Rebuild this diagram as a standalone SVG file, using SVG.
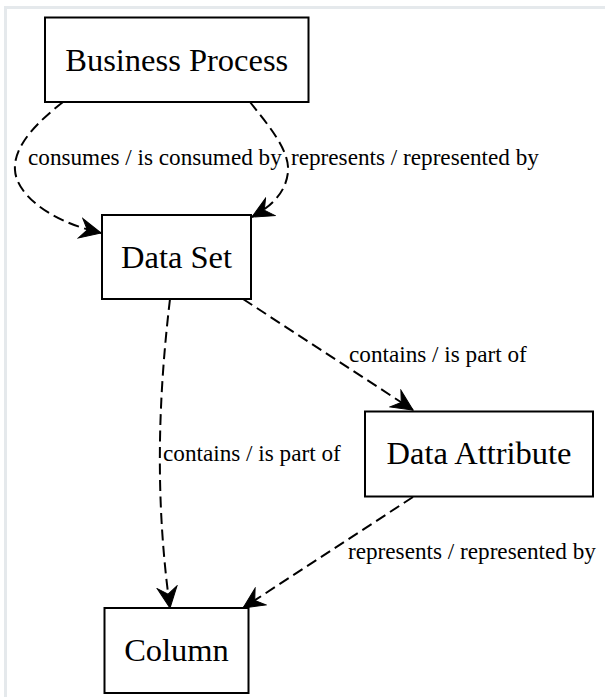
<svg xmlns="http://www.w3.org/2000/svg" width="605" height="697" viewBox="0 0 605 697">
<style>
.node rect{fill:#fff;stroke:#000;stroke-width:2}
.node text{font-family:"Liberation Serif","Times New Roman",serif;font-size:32.5px;text-anchor:middle;fill:#000}
.edge{fill:none;stroke:#000;stroke-width:2;stroke-dasharray:11,5.5}
.elabel{font-family:"Liberation Serif","Times New Roman",serif;font-size:23.2px;fill:#000}
</style>
<defs>
<marker id="vee" markerUnits="userSpaceOnUse" viewBox="-22 -11 23 22" refX="0" refY="0" markerWidth="23" markerHeight="22" orient="auto">
<path d="M0,0 L-21,-10 L-14,0 L-21,10 Z" fill="#000" stroke="#000" stroke-width="1"/>
</marker>
</defs>
<rect x="0" y="0" width="605" height="697" fill="#fff"/>
<rect x="5.5" y="7.5" width="610" height="700" fill="#fff" stroke="#e5e9ec" stroke-width="3"/>
<g id="connectors">
<path class="edge" d="M63,102 C40,120 13,145 15,170 C16,192 45,220 101,233" marker-end="url(#vee)"/>
<path class="edge" d="M250,102 C268,125 290,150 288,172 C286,192 272,206 252,217" marker-end="url(#vee)"/>
<path class="edge" d="M243,299 L413,410" marker-end="url(#vee)"/>
<path class="edge" d="M170,299 C158,400 155,500 170,608" marker-end="url(#vee)"/>
<path class="edge" d="M413,497 L243,608" marker-end="url(#vee)"/>
<text class="elabel" x="28" y="165">consumes / is consumed by</text>
<text class="elabel" x="291" y="165">represents / represented by</text>
<text class="elabel" x="349" y="362">contains / is part of</text>
<text class="elabel" x="163" y="461">contains / is part of</text>
<text class="elabel" x="348" y="559">represents / represented by</text>
</g>
<g id="business-process" class="node">
<rect x="45" y="17.5" width="263.5" height="84.5"/>
<text x="176.75" y="70.5">Business Process</text>
</g>
<g id="data-set" class="node">
<rect x="102" y="215" width="149" height="84"/>
<text x="176.5" y="267.5">Data Set</text>
</g>
<g id="data-attribute" class="node">
<rect x="365" y="411.5" width="228" height="85"/>
<text x="479" y="464">Data Attribute</text>
</g>
<g id="column" class="node">
<rect x="104.5" y="608" width="144" height="85"/>
<text x="176.5" y="660.5">Column</text>
</g>
</svg>
